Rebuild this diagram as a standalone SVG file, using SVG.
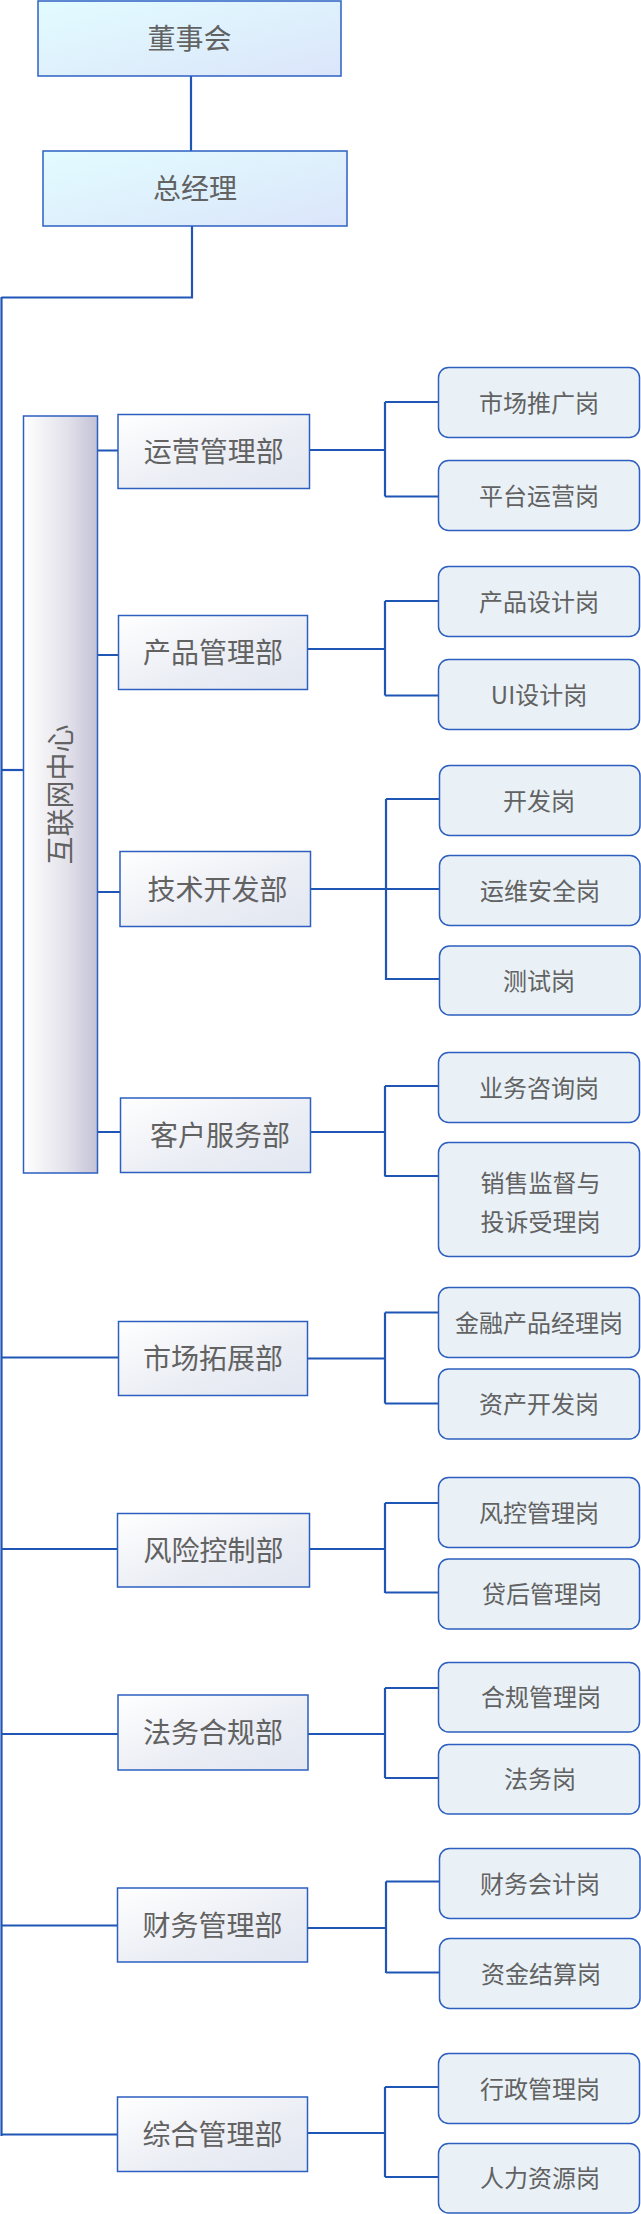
<svg xmlns="http://www.w3.org/2000/svg" width="641" height="2214" viewBox="0 0 641 2214">
<defs>
<linearGradient id="gTop" x1="0" y1="0" x2="1" y2="1">
<stop offset="0" stop-color="#e2fcff"/>
<stop offset="1" stop-color="#dbe5fa"/>
</linearGradient>
<linearGradient id="gDept" x1="0" y1="0" x2="1" y2="1">
<stop offset="0" stop-color="#ffffff"/>
<stop offset="0.6" stop-color="#eaedf4"/>
<stop offset="1" stop-color="#e2e7f1"/>
</linearGradient>
<linearGradient id="gCenter" x1="0" y1="0" x2="1" y2="0">
<stop offset="0" stop-color="#ffffff"/>
<stop offset="0.6" stop-color="#e2e1ea"/>
<stop offset="1" stop-color="#c3c1d6"/>
</linearGradient>
</defs>
<style>
.top{fill:url(#gTop);stroke:#2c60c4;stroke-width:1.5}
.dept{fill:url(#gDept);stroke:#2c5fc0;stroke-width:1.5}
.ctr{fill:url(#gCenter);stroke:#2c5fc0;stroke-width:1.5}
.post{fill:#e9f1f7;stroke:#2c5fbf;stroke-width:1.5}
.t{font-family:"Noto Sans CJK SC","Noto Sans",sans-serif;fill:#626262;text-anchor:middle}
.t28{font-size:28px}
.t24{font-size:24px}
.c{fill:none;stroke:#1f56b6;stroke-width:2.2}
</style>
<rect width="641" height="2214" fill="#ffffff"/>

<g id="connectors">
<path class="c" d="M191 76V151M192 226V297.5H1.5"/>
<path class="c" d="M1.5 297V2136" stroke-width="2.8"/>
<path class="c" d="M1.5 770H23.5"/>
<!-- 运营管理部 -->
<path class="c" d="M97.5 450.5H118M309.5 450H385M385 402V496.5M385 402H438.5M385 496.5H438.5"/>
<!-- 产品管理部 -->
<path class="c" d="M97.5 655H118.5M307.5 649H385M385 601V695.5M385 601H438.5M385 695.5H438.5"/>
<!-- 技术开发部 -->
<path class="c" d="M97.5 892H120M310.5 889H439.5M386 799V980M386 799H439.5M386 979H439.5"/>
<!-- 客户服务部 -->
<path class="c" d="M97.5 1132H120.5M310.5 1132H385M385 1086V1176.5M385 1086H438.5M385 1176H438.5"/>
<!-- 市场拓展部 -->
<path class="c" d="M1.5 1357.5H118.5M307.5 1358.5H385M385 1312.5V1403.5M385 1312.5H438.5M385 1403.5H438.5"/>
<!-- 风险控制部 -->
<path class="c" d="M1.5 1549H117.5M309.5 1549H385M385 1503V1593M385 1503H438.5M385 1592.5H438.5"/>
<!-- 法务合规部 -->
<path class="c" d="M1.5 1734H118M308 1734H385M385 1688V1778M385 1688H438.5M385 1778H438.5"/>
<!-- 财务管理部 -->
<path class="c" d="M1.5 1925.5H117.5M307.5 1928H386M386 1881.5V1973M386 1881.5H439.5M386 1972.5H439.5"/>
<!-- 综合管理部 -->
<path class="c" d="M1.5 2134.5H117.5M307.5 2133H385M385 2087V2177M385 2087H438.5M385 2177H438.5"/>
</g>

<g id="n-board"><rect class="top" x="38" y="1" width="303" height="75"/><text class="t t28" x="189.5" y="49">董事会</text></g>
<g id="n-gm"><rect class="top" x="43" y="151" width="304" height="75"/><text class="t t28" x="195" y="199">总经理</text></g>

<g id="n-internet"><rect class="ctr" x="23.5" y="416" width="74" height="757"/><text class="t t28" transform="translate(60.5,794.5) rotate(-90)" x="0" y="10.5">互联网中心</text></g>

<g id="n-yunying"><rect class="dept" x="118" y="414.5" width="191.5" height="74"/><text class="t t28" x="213.75" y="462">运营管理部</text></g>
<g id="n-chanpin"><rect class="dept" x="118.5" y="615.5" width="189" height="74"/><text class="t t28" x="213" y="663">产品管理部</text></g>
<g id="n-jishu"><rect class="dept" x="120" y="851.5" width="190.5" height="75"/><text class="t t28" x="217.5" y="899.5">技术开发部</text></g>
<g id="n-kefu"><rect class="dept" x="120.5" y="1098" width="190" height="74.5"/><text class="t t28" x="220" y="1146">客户服务部</text></g>
<g id="n-shichang"><rect class="dept" x="118.5" y="1321.5" width="189" height="74"/><text class="t t28" x="213" y="1369">市场拓展部</text></g>
<g id="n-fengxian"><rect class="dept" x="117.5" y="1513.5" width="192" height="73.5"/><text class="t t28" x="213.5" y="1561">风险控制部</text></g>
<g id="n-fawu"><rect class="dept" x="118" y="1695" width="190" height="75"/><text class="t t28" x="213" y="1743">法务合规部</text></g>
<g id="n-caiwu"><rect class="dept" x="117.5" y="1888" width="190" height="74"/><text class="t t28" x="212.5" y="1935.5">财务管理部</text></g>
<g id="n-zonghe"><rect class="dept" x="117.5" y="2097" width="190" height="74.5"/><text class="t t28" x="212.5" y="2145">综合管理部</text></g>

<g id="p1"><rect class="post" x="438.5" y="367.5" width="201" height="70" rx="10"/><text class="t t24" x="539" y="411.5">市场推广岗</text></g>
<g id="p2"><rect class="post" x="438.5" y="460.5" width="201" height="70" rx="10"/><text class="t t24" x="539" y="504.5">平台运营岗</text></g>
<g id="p3"><rect class="post" x="438.5" y="566.5" width="201" height="70" rx="10"/><text class="t t24" x="539" y="610.5">产品设计岗</text></g>
<g id="p4"><rect class="post" x="438.5" y="659.5" width="201" height="70" rx="10"/><text class="t t24" x="539" y="703.5">UI设计岗</text></g>
<g id="p5"><rect class="post" x="439.5" y="765.5" width="200.5" height="70" rx="10"/><text class="t t24" x="539" y="809.5">开发岗</text></g>
<g id="p6"><rect class="post" x="439.5" y="855.5" width="200.5" height="70" rx="10"/><text class="t t24" x="540" y="899.5">运维安全岗</text></g>
<g id="p7"><rect class="post" x="439.5" y="946" width="200.5" height="69" rx="10"/><text class="t t24" x="539" y="989.5">测试岗</text></g>
<g id="p8"><rect class="post" x="438.5" y="1052.5" width="201" height="70" rx="10"/><text class="t t24" x="539" y="1096.5">业务咨询岗</text></g>
<g id="p9"><rect class="post" x="438.5" y="1142.5" width="201" height="114" rx="10"/><text class="t t24" x="540.5" y="1192">销售监督与</text><text class="t t24" x="540.5" y="1231">投诉受理岗</text></g>
<g id="p10"><rect class="post" x="438.5" y="1287.5" width="201" height="70" rx="10"/><text class="t t24" x="539" y="1331.5">金融产品经理岗</text></g>
<g id="p11"><rect class="post" x="438.5" y="1369" width="201" height="70" rx="10"/><text class="t t24" x="539" y="1413">资产开发岗</text></g>
<g id="p12"><rect class="post" x="438.5" y="1477.5" width="201" height="70" rx="10"/><text class="t t24" x="539" y="1521.5">风控管理岗</text></g>
<g id="p13"><rect class="post" x="438.5" y="1559" width="201" height="70" rx="10"/><text class="t t24" x="542" y="1603">贷后管理岗</text></g>
<g id="p14"><rect class="post" x="438.5" y="1662.5" width="201" height="69.5" rx="10"/><text class="t t24" x="541" y="1706">合规管理岗</text></g>
<g id="p15"><rect class="post" x="438.5" y="1744.5" width="201" height="69.5" rx="10"/><text class="t t24" x="540" y="1788">法务岗</text></g>
<g id="p16"><rect class="post" x="439.5" y="1848.5" width="200.5" height="70" rx="10"/><text class="t t24" x="540" y="1892.5">财务会计岗</text></g>
<g id="p17"><rect class="post" x="439.5" y="1938.5" width="200.5" height="70" rx="10"/><text class="t t24" x="541" y="1982.5">资金结算岗</text></g>
<g id="p18"><rect class="post" x="438.5" y="2053.5" width="201" height="70" rx="10"/><text class="t t24" x="540" y="2097.5">行政管理岗</text></g>
<g id="p19"><rect class="post" x="438.5" y="2143.5" width="201" height="69.5" rx="10"/><text class="t t24" x="540" y="2187">人力资源岗</text></g>
</svg>
